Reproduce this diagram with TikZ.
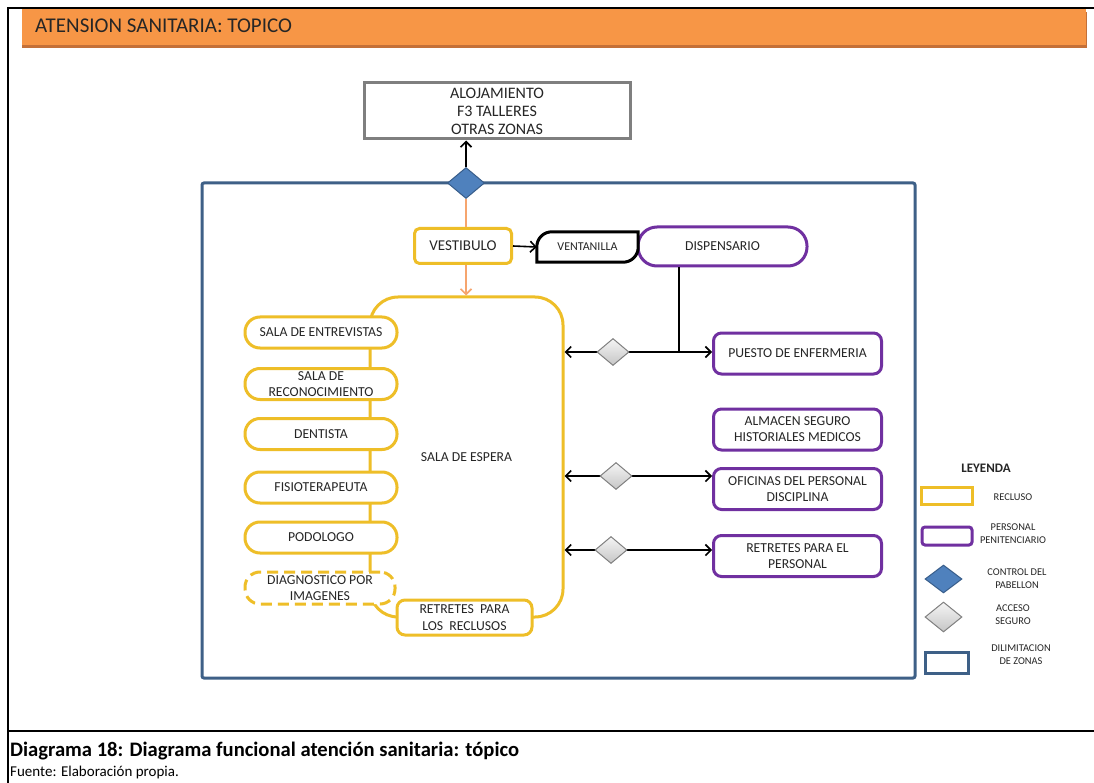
\documentclass[tikz,border=0pt]{standalone}
\usepackage{fontspec}
\setmainfont{Carlito}
\usetikzlibrary{shapes.geometric,arrows.meta,calc}
\definecolor{recl}{RGB}{238,190,40}
\definecolor{pers}{RGB}{112,48,160}
\definecolor{zonab}{RGB}{62,96,135}
\definecolor{ctrlfill}{RGB}{79,129,189}
\definecolor{ctrldraw}{RGB}{56,93,138}
\definecolor{hdr}{RGB}{247,150,70}
\definecolor{hdrsh}{RGB}{196,112,56}
\definecolor{orline}{RGB}{246,165,110}
\definecolor{txt}{RGB}{38,38,38}
\definecolor{alojgray}{RGB}{127,127,127}
\begin{document}
\begin{tikzpicture}[x=1pt,y=-1pt,
  lbl/.style={font=\fontsize{13.7}{16}\selectfont, text=txt, align=center},
  recbox/.style={lbl, draw=recl, line width=3pt, fill=white, rounded corners=15pt, minimum width=152pt, minimum height=31pt, inner sep=1pt},
  perbox/.style={lbl, draw=pers, line width=3pt, fill=white, rounded corners=8pt, minimum width=168pt, minimum height=41pt, inner sep=1pt},
  ctrlshape/.style={diamond, draw=ctrldraw, fill=ctrlfill, line width=1pt, minimum width=37pt, minimum height=31pt, inner sep=0pt},
  accshape/.style={diamond, draw=gray, top color=gray!8, bottom color=gray!45, line width=1pt, minimum width=32pt, minimum height=27pt, inner sep=0pt},
  conn/.style={line width=1.6pt, black},
  arr/.style={-{Straight Barb[length=5.5pt,width=11pt]}},
  darr/.style={{Straight Barb[length=5.5pt,width=11pt]}-{Straight Barb[length=5.5pt,width=11pt]}},
  leg/.style={font=\fontsize{10.4}{13}\selectfont, text=txt, align=center}
]
\useasboundingbox (0,0) rectangle (1094,783);
\fill[white] (0,0) rectangle (1094,783);
% frame
\draw[line width=2pt] (1094,8) -- (8,8) -- (8,783);
\draw[line width=2pt] (8,731) -- (1094,731);
% header
\fill[hdrsh] (22,12) rectangle (1087,48);
\fill[hdr] (22,9) rectangle (1086,45);
\node[anchor=west, inner sep=0pt, text=black!85, font=\fontsize{21}{22}\selectfont] (title) at (35,26) {ATENSION SANITARIA: TOPICO};
% zone
\node[draw=zonab, line width=3pt, rounded corners=2pt, minimum width=713pt, minimum height=495pt] (zona) at (558.5,430.5) {};
% top box
\node[draw=alojgray, line width=3pt, fill=white, minimum width=266pt, minimum height=56pt, font=\fontsize{16}{18}\selectfont, text=txt, align=center] (aloj) at (497,111) {ALOJAMIENTO\\F3 TALLERES\\OTRAS ZONAS};
% vestibulo
\node[lbl, draw=recl, line width=3pt, fill=white, rounded corners=5pt, minimum width=97pt, minimum height=35pt, font=\fontsize{15}{17}\selectfont] (vest) at (463,246) {VESTIBULO};
% control diamond
\node[ctrlshape] (ctrl) at (466,183) {};
\draw[conn, arr] (ctrl.north) -- (aloj.south -| ctrl);
\draw[orline, line width=1.6pt] (ctrl.south) -- (vest.north -| ctrl);
% sala de espera
\node[lbl, draw=recl, line width=3pt, rounded corners=28pt, minimum width=193pt, minimum height=320pt] (espera) at (466.5,457) {SALA DE ESPERA};
\draw[orline, line width=1.6pt, arr] (vest.south -| ctrl) -- (espera.north -| ctrl);
% dispensario and ventanilla
\node[lbl, draw=pers, line width=3pt, fill=white, rounded corners=19pt, minimum width=169pt, minimum height=39pt] (disp) at (722.5,246.5) {DISPENSARIO};
\node[lbl, font=\fontsize{12}{13}\selectfont, minimum width=101pt, minimum height=30pt, inner sep=0pt] (vent) at (587.5,247) {VENTANILLA};
\draw[line width=3pt, fill=white] (vent.south west) -- ($(vent.north west)+(0,15)$) .. controls ($(vent.north west)+(0,6.7)$) and ($(vent.north west)+(6.7,0)$) .. ($(vent.north west)+(15,0)$) -- (vent.north east) -- ($(vent.south east)+(0,-15)$) .. controls ($(vent.south east)+(0,-6.7)$) and ($(vent.south east)+(-6.7,0)$) .. ($(vent.south east)+(-15,0)$) -- cycle;
\node[lbl, font=\fontsize{12}{13}\selectfont, inner sep=0pt] at (vent.center) {VENTANILLA};
\draw[conn, arr] (vest.east) -- (vent.west);
% left column
\node[recbox] (entrev) at (321,332.5) {SALA DE ENTREVISTAS};
\node[recbox] (recon) at (321,384) {SALA DE\\RECONOCIMIENTO};
\node[recbox] (dent) at (321,434) {DENTISTA};
\node[recbox] (fisio) at (321,487.5) {FISIOTERAPEUTA};
\node[recbox] (podo) at (321,537.5) {PODOLOGO};
\node[recbox, dash pattern=on 11pt off 6pt, minimum width=150pt, minimum height=32pt] (diag) at (320,588) {DIAGNOSTICO POR\\IMAGENES};
\node[lbl, draw=recl, line width=3pt, fill=white, rounded corners=8pt, minimum width=135pt, minimum height=35pt, inner sep=1pt, font=\fontsize{13.7}{17.5}\selectfont] (retrec) at (464.5,617.5) {RETRETES\ \ PARA\\LOS\ \ RECLUSOS};
% right column
\node[perbox] (puesto) at (797.5,353.5) {PUESTO DE ENFERMERIA};
\node[perbox] (almacen) at (797.5,429.5) {ALMACEN SEGURO\\HISTORIALES MEDICOS};
\node[perbox] (ofic) at (797.5,489) {OFICINAS DEL PERSONAL\\DISCIPLINA};
\node[perbox] (retper) at (797.5,556) {RETRETES PARA EL\\PERSONAL};
% access connectors
\coordinate (g1) at (613,352);
\coordinate (g2) at (616,476);
\coordinate (g3) at (611,550);
\coordinate (jn) at (679,352);
\draw[conn, darr] (espera.east |- g1) -- (puesto.west |- g1);
\draw[conn, darr] (espera.east |- g2) -- (ofic.west |- g2);
\draw[conn, darr] (espera.east |- g3) -- (retper.west |- g3);
\draw[conn] (disp.south -| jn) -- (jn);
\node[accshape] (a1) at (g1) {};
\node[accshape] (a2) at (g2) {};
\node[accshape] (a3) at (g3) {};
% legend
\node[font=\bfseries\fontsize{13}{14}\selectfont, text=txt] (leyenda) at (986,468) {LEYENDA};
\node[draw=recl, line width=3pt, minimum width=51pt, minimum height=17pt, inner sep=0pt] (lrec) at (946.5,495.5) {};
\node[leg] (lrect) at (1013,497) {RECLUSO};
\node[draw=pers, line width=3pt, rounded corners=3pt, minimum width=50pt, minimum height=18pt, inner sep=0pt] (lper) at (947,536) {};
\node[leg] (lpert) at (1013,534) {PERSONAL\\PENITENCIARIO};
\node[ctrlshape, minimum width=37pt, minimum height=28pt] (lctrl) at (943.5,579) {};
\node[leg] (lctrlt) at (1017,578.5) {CONTROL DEL\\PABELLON};
\node[accshape, minimum width=37pt, minimum height=30pt] (lacc) at (943.5,617) {};
\node[leg] (lacct) at (1013,615) {ACCESO\\SEGURO};
\node[draw=zonab, line width=3pt, minimum width=43pt, minimum height=21pt, inner sep=0pt] (lzona) at (946.5,662.5) {};
\node[leg] (lzonat) at (1021,655) {DILIMITACION\\DE ZONAS};
% caption
\node[anchor=west, inner sep=0pt, font=\bfseries\fontsize{20.6}{22}\selectfont] (cap) at (10,751) {Diagrama 18: Diagrama funcional atención sanitaria: tópico};
\node[anchor=west, inner sep=0pt, font=\fontsize{15}{18}\selectfont] (src) at (10,772) {Fuente: Elaboración propia.};
\end{tikzpicture}
\end{document}
